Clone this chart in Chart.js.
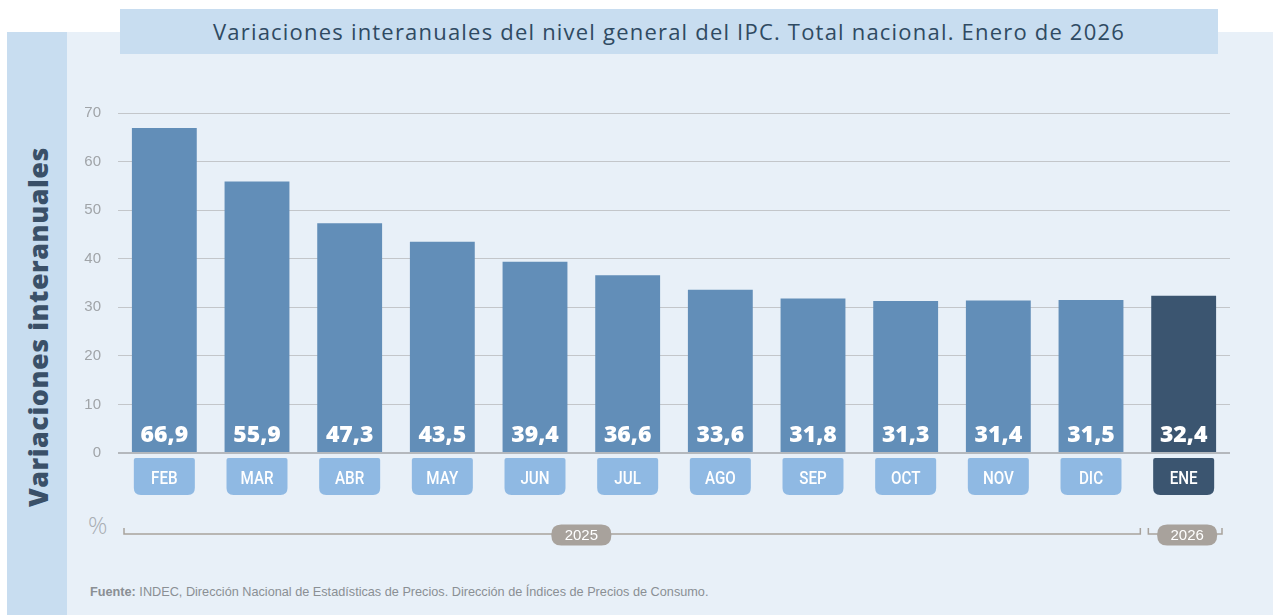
<!DOCTYPE html>
<html>
<head>
<meta charset="utf-8">
<script src="https://cdn.jsdelivr.net/npm/chart.js@4"></script>
<style>
  body { margin: 0; background: #fff; width: 1273px; height: 615px; overflow: hidden; position: relative; font-family: "Open Sans", sans-serif; }
  .strip { position: absolute; left: 7px; top: 32px; width: 60px; height: 583px; background: #c8ddf0; }
  .panel { position: absolute; left: 67px; top: 32px; width: 1206px; height: 583px; background: #e8f0f8; }
  .title { position: absolute; left: 120px; top: 9px; width: 1098px; height: 45px; background: #c8ddf0;
           color: #2f4a62; font-size: 22px; line-height: 45px; text-align: center; letter-spacing: 1.2px; }
  .ytitle { position: absolute; left: 37px; top: 327px; transform: translate(-50%, -50%) rotate(-90deg);
            white-space: nowrap; color: #3a5068; font-size: 27px; font-weight: 800; letter-spacing: 0.5px; }
  .pct { position: absolute; left: 88px; top: 508px; color: #a9aeb4; font-size: 24px; font-weight: 300; }
  .fuente { position: absolute; left: 90px; top: 585px; color: #8a8f94; font-size: 12.7px; font-family: "Liberation Sans", Arial, sans-serif; }
  .fuente b { font-weight: bold; }
  canvas { position: absolute; left: 0; top: 0; }
</style>
</head>
<body>
<div class="strip"></div>
<div class="panel"></div>
<div class="title">Variaciones interanuales del nivel general del IPC. Total nacional. Enero de 2026</div>
<div class="ytitle">Variaciones interanuales</div>
<div class="pct">%</div>
<div class="fuente"><b>Fuente:</b> INDEC, Dirección Nacional de Estadísticas de Precios. Dirección de Índices de Precios de Consumo.</div>
<canvas id="ipcChart" width="1273" height="615"></canvas>
<script>
const meses = ['FEB', 'MAR', 'ABR', 'MAY', 'JUN', 'JUL', 'AGO', 'SEP', 'OCT', 'NOV', 'DIC', 'ENE'];
const variaciones = [66.9, 55.9, 47.3, 43.5, 39.4, 36.6, 33.6, 31.8, 31.3, 31.4, 31.5, 32.4];
const anios = ['2025', '2026'];
const mesesPorAnio = [11, 1];
const yTicks = [0, 10, 20, 30, 40, 50, 60, 70];

const colorBarra = '#628eb8';
const colorUltimo = '#3b5570';
const colorMes = '#8fb9e3';

const barColors = variaciones.map((v, i) => i === variaciones.length - 1 ? colorUltimo : colorBarra);
const boxColors = variaciones.map((v, i) => i === variaciones.length - 1 ? colorUltimo : colorMes);

function roundRectPath(ctx, x, y, w, h, rTop, rBot) {
    ctx.beginPath();
    ctx.moveTo(x + rTop, y);
    ctx.lineTo(x + w - rTop, y);
    ctx.quadraticCurveTo(x + w, y, x + w, y + rTop);
    ctx.lineTo(x + w, y + h - rBot);
    ctx.quadraticCurveTo(x + w, y + h, x + w - rBot, y + h);
    ctx.lineTo(x + rBot, y + h);
    ctx.quadraticCurveTo(x, y + h, x, y + h - rBot);
    ctx.lineTo(x, y + rTop);
    ctx.quadraticCurveTo(x, y, x + rTop, y);
    ctx.closePath();
}

// Etiquetas de valor, cajas de meses y llaves de años
const extras = {
    id: 'extras',
    afterDatasetsDraw(chart) {
        const ctx = chart.ctx;
        const x = chart.scales.x;
        const y = chart.scales.y;
        const meta = chart.getDatasetMeta(0);
        const zero = y.getPixelForValue(0);

        // linea base
        ctx.save();
        ctx.strokeStyle = '#b4b8bd';
        ctx.lineWidth = 2;
        ctx.beginPath();
        ctx.moveTo(chart.chartArea.left, zero);
        ctx.lineTo(chart.chartArea.right, zero);
        ctx.stroke();

        meta.data.forEach((bar, i) => {
            // valor
            ctx.fillStyle = '#ffffff';
            ctx.font = '800 23px "Open Sans", sans-serif';
            ctx.textAlign = 'center';
            ctx.textBaseline = 'middle';
            ctx.fillText(variaciones[i].toFixed(1).replace('.', ','), bar.x, zero - 18);

            // caja del mes
            const bw = 61;
            roundRectPath(ctx, bar.x - bw / 2, zero + 5, bw, 37, 2, 7);
            ctx.fillStyle = boxColors[i];
            ctx.fill();
            ctx.fillStyle = '#ffffff';
            ctx.font = '500 19px "Roboto", sans-serif';
            ctx.save();
            ctx.translate(bar.x, zero + 26);
            ctx.scale(0.8, 1);
            ctx.fillText(meses[i], 0, 0);
            ctx.restore();
        });

        // llaves de años
        const step = x.getPixelForValue(1) - x.getPixelForValue(0);
        let start = 0;
        const lineY = 534;
        mesesPorAnio.forEach((n, k) => {
            const x0 = x.getPixelForValue(start) - step / 2 + (k === 0 ? 6 : 11);
            const x1 = x.getPixelForValue(start + n - 1) + step / 2 + (k === 0 ? 3 : -8);
            ctx.strokeStyle = '#a8a29c';
            ctx.lineWidth = 1.5;
            ctx.beginPath();
            ctx.moveTo(x0, lineY - 6);
            ctx.lineTo(x0, lineY);
            ctx.lineTo(x1, lineY);
            ctx.lineTo(x1, lineY - 6);
            ctx.stroke();

            // la etiqueta de 2025 va entre JUN y JUL
            const cx = n > 1 ? (x.getPixelForValue(4) + x.getPixelForValue(5)) / 2 : (x0 + x1) / 2 + 2;
            const pw = 60, ph = 21;
            roundRectPath(ctx, cx - pw / 2, lineY + 1 - ph / 2, pw, ph, 10, 10);
            ctx.fillStyle = '#a8a29c';
            ctx.fill();
            ctx.fillStyle = '#ffffff';
            ctx.font = '15px "Liberation Sans", sans-serif';
            ctx.fillText(anios[k], cx, lineY + 2);
            start += n;
        });
        ctx.restore();
    }
};

new Chart(document.getElementById('ipcChart').getContext('2d'), {
    type: 'bar',
    data: {
        labels: meses,
        datasets: [{
            data: variaciones,
            backgroundColor: barColors,
            borderWidth: 0,
            categoryPercentage: 1,
            barPercentage: 0.7
        }]
    },
    options: {
        responsive: false,
        animation: false,
        layout: { padding: { top: 113, bottom: 162, right: 43, left: 0 } },
        plugins: { legend: { display: false }, tooltip: { enabled: false } },
        scales: {
            x: { display: false },
            y: {
                min: 0,
                max: 70,
                afterFit: scale => { scale.width = 118; },
                afterBuildTicks: scale => { scale.ticks = yTicks.map(v => ({ value: v })); },
                border: { display: false },
                grid: { color: '#c3c6ca', lineWidth: 1, drawTicks: false },
                ticks: {
                    padding: 17,
                    color: '#a0a4a8',
                    font: { family: 'Liberation Sans', size: 15 }
                }
            }
        }
    },
    plugins: [extras]
});
</script>
</body>
</html>
